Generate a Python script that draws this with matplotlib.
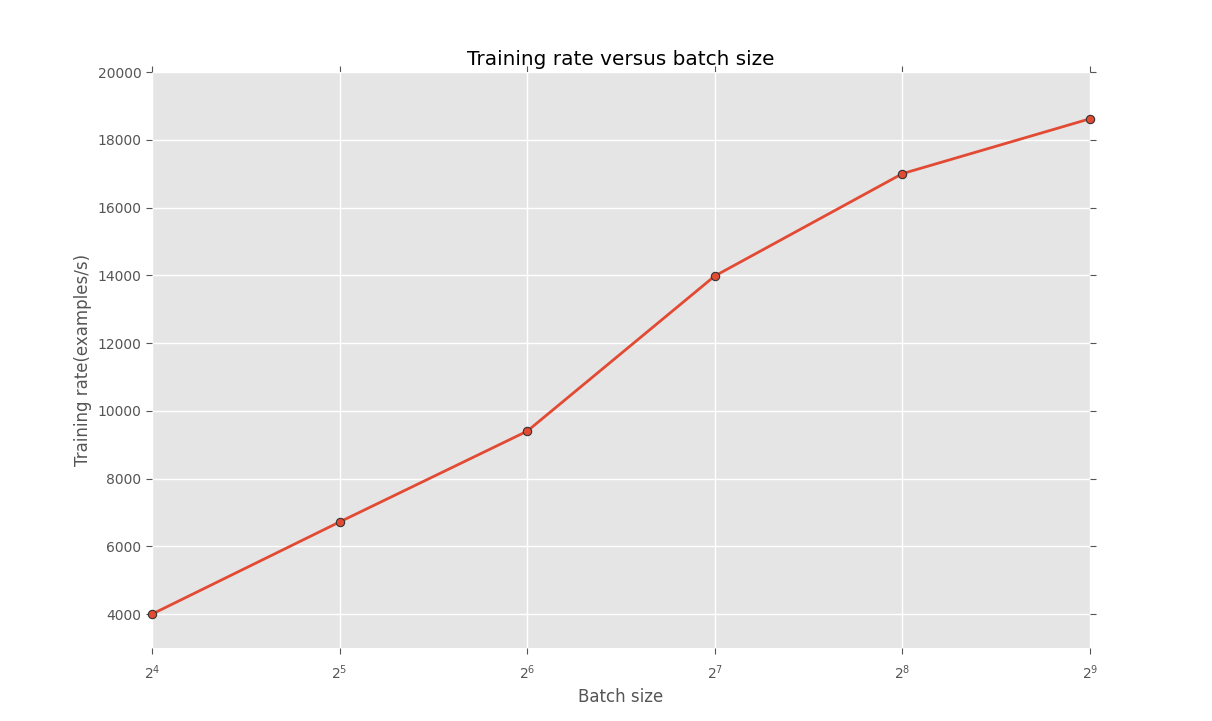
import matplotlib
matplotlib.use("Agg")
import matplotlib.pyplot as plt

batch_sizes = [16, 32, 64, 128, 256, 512]
rates = [4000, 6720, 9400, 13980, 17000, 18620]

plt.style.use("ggplot")
fig = plt.figure(figsize=(12.12, 7.21), dpi=100)
ax = fig.add_axes([152 / 1212, 1 - 648 / 721, 938 / 1212, 576 / 721])
ax.plot(batch_sizes, rates, color="#E24A33", lw=2, marker="o", ms=6,
        markeredgecolor="#333333", markeredgewidth=0.8, clip_on=False, zorder=3)
ax.set_xscale("log", base=2)
ax.set_xlim(16, 512)
ax.set_ylim(3000, 20000)
ax.set_yticks(range(4000, 20001, 2000))
ax.set_xticks(batch_sizes)
ax.minorticks_off()
ax.tick_params(axis="both", which="major", direction="out", top=True, right=True,
               length=4, color="#555555", labelcolor="#555555", labelsize=10)
ax.tick_params(axis="x", pad=7)
ax.grid(True, color="white", lw=1)
for s in ax.spines.values():
    s.set_visible(False)
ax.set_facecolor("#E5E5E5")
ax.set_xlabel("Batch size", fontsize=12, color="#555555", labelpad=4.5)
ax.set_ylabel("Training rate(examples/s)", fontsize=12, color="#555555")
ax.set_title("Training rate versus batch size", fontsize=14.4, color="black", pad=5)
fig.savefig("out.png", dpi=100, facecolor="white")
